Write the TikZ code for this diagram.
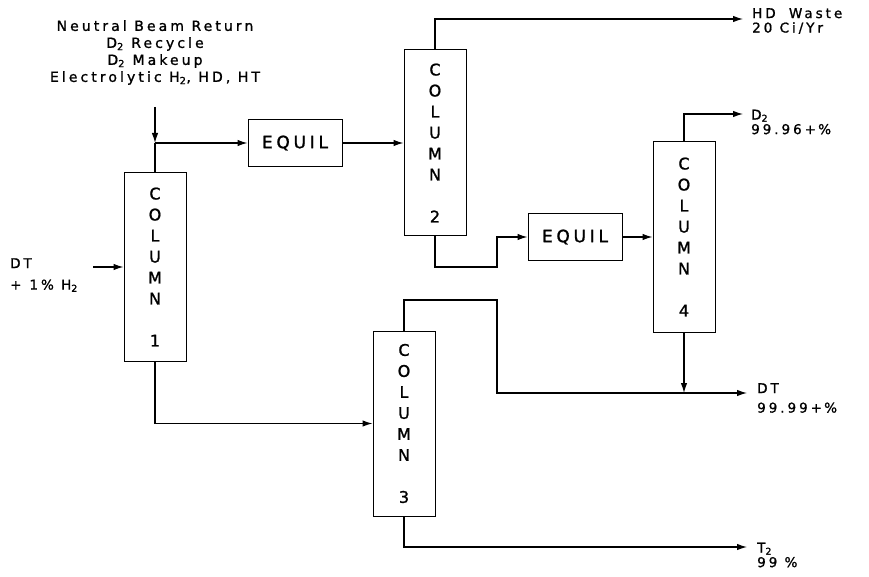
\documentclass[tikz,border=0pt]{standalone}
\usepackage{fontspec}
\setmainfont{DejaVu Sans}[LetterSpace=22,FakeBold=1.2]
\usetikzlibrary{arrows.meta}
\begin{document}
\begin{tikzpicture}[x=1pt,y=-1pt,
  col/.style={draw, line width=1pt, minimum width=62pt, inner sep=0pt, align=center, font=\fontsize{16}{21}\selectfont},
  equil/.style={draw, line width=1pt, minimum width=94pt, minimum height=47pt, inner sep=0pt, font=\fontsize{17}{20}\selectfont},
  pipe/.style={line width=1.2pt},
  flow/.style={pipe, -{Latex[length=10pt,width=6.5pt]}},
  lab/.style={font=\fontsize{13.5}{14.5}\selectfont, align=left, anchor=west, inner sep=0pt}]
\useasboundingbox (0,0) rectangle (869,577);
% columns and equilibrators
\node[col, minimum height=188pt] (col1) at (155,267) {C\\O\\L\\U\\M\\N\\[21pt]1};
\node[col, minimum height=186pt] (col2) at (435,143) {C\\O\\L\\U\\M\\N\\[21pt]2};
\node[col, minimum height=185pt] (col3) at (404,423.5) {C\\O\\L\\U\\M\\N\\[21pt]3};
\node[col, minimum height=190pt] (col4) at (684,237) {C\\O\\L\\U\\M\\N\\[21pt]4};
\node[equil] (eq1) at (295,143) {EQUIL};
\node[equil] (eq2) at (575,237) {EQUIL};
% feeds
\node[font=\fontsize{14}{17}\selectfont, align=center, inner sep=0pt] (feedlab) at (155,52.5)
  {Neutral Beam Return\\D\textsubscript{2} Recycle\\D\textsubscript{2} Makeup\\Electrolytic H\textsubscript{2}, HD, HT};
\node[lab, align=left] (dtlab) at (10,275) {DT\\[7pt]+\hspace{8pt}1\% H\textsubscript{2}};
\coordinate (feed) at (155,107);
\coordinate (j1) at (155,143);
\coordinate (dtin) at (93,267);
% products
\node[lab] (hdlab) at (752,21) {HD\hspace{6pt} Waste\\20 Ci/Yr};
\node[lab] (d2lab) at (751,122) {D\textsubscript{2}\\99.96+\,\%};
\node[lab] (dtout) at (757,398) {DT\\[5pt]99.99+\,\%};
\node[lab] (t2lab) at (757,555) {T\textsubscript{2}\\99 \%};
\coordinate (hd) at (743,19);
\coordinate (d2) at (743,114);
\coordinate (dt) at (747,393);
\coordinate (t2) at (747,547);
\coordinate (c2b) at (497,267);
\coordinate (c3t) at (497,300);
\coordinate (j4) at (684,393);
% streams
\draw[flow] (feed) -- (j1);
\draw[pipe] (j1) -- (col1.north);
\draw[flow] (j1) -- (eq1.west);
\draw[flow] (dtin) -- (col1.west);
\draw[flow] (eq1.east) -- (col2.west);
\draw[flow] (col2.north) |- (hd);
\draw[flow] (col2.south) |- (c2b) |- (eq2.west);
\draw[flow] (eq2.east) -- (col4.west);
\draw[flow] (col4.north) |- (d2);
\draw[flow] (col4.south) -- (j4);
\draw[flow] (col1.south) |- (col3.west);
\draw[flow] (col3.north) |- (c3t) |- (dt);
\draw[flow] (col3.south) |- (t2);
\end{tikzpicture}
\end{document}
